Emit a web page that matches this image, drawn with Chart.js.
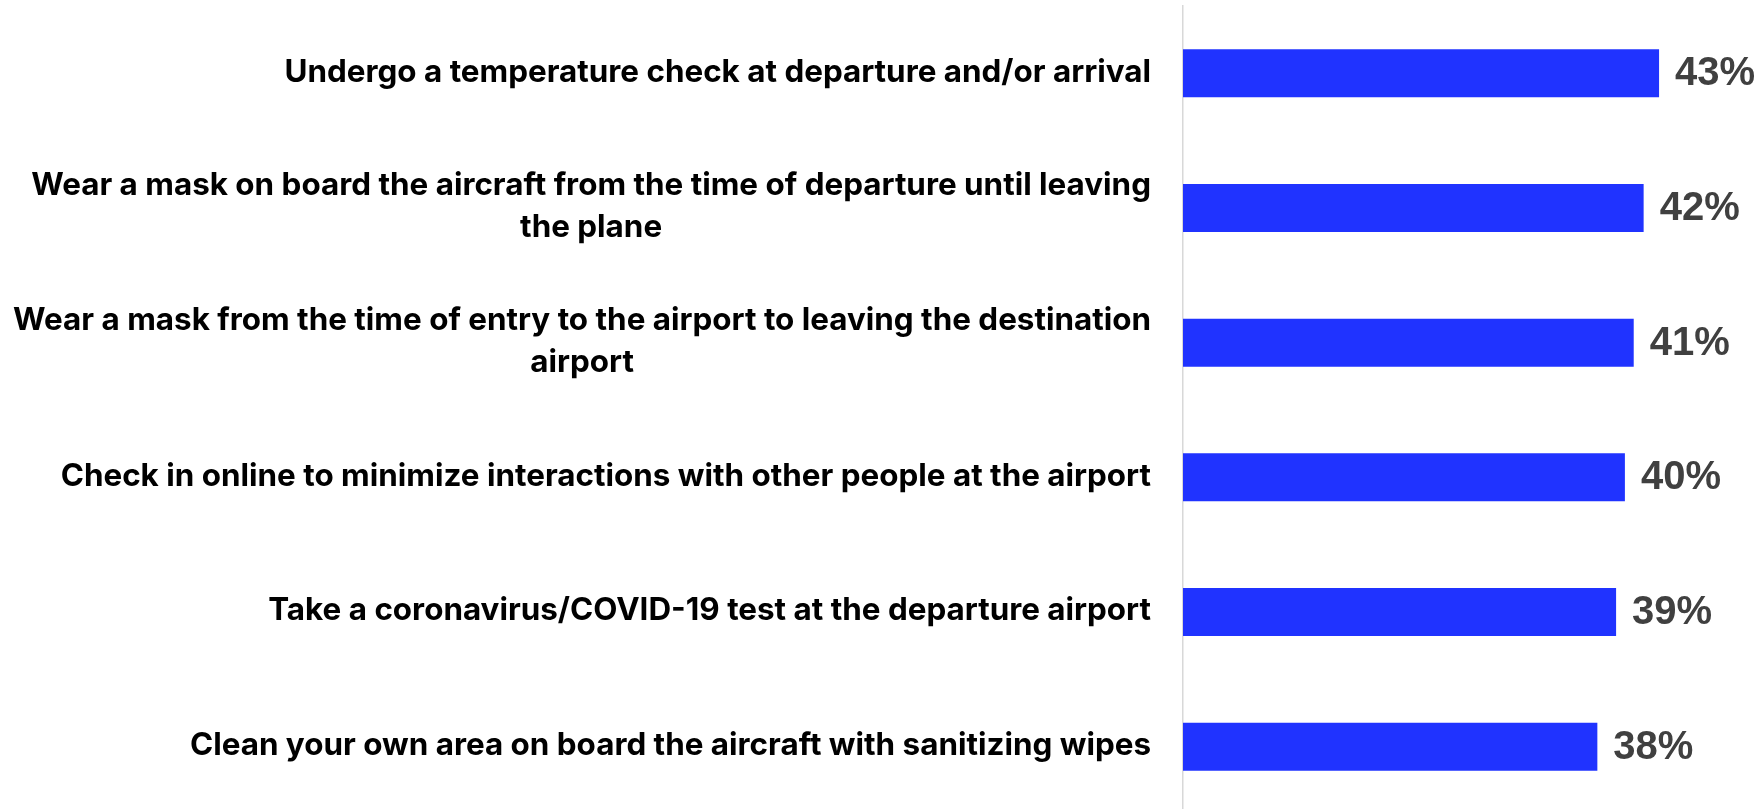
<!DOCTYPE html>
<html lang="en">
<head>
<meta charset="UTF-8">
<title>Airport health measures</title>
<script src="https://cdn.jsdelivr.net/npm/chart.js"></script>
<style>
  html, body { margin: 0; padding: 0; background: #fff; overflow: hidden; }
  .wrap { position: relative; width: 1760px; height: 814px; }
</style>
</head>
<body>
<div class="wrap"><canvas id="barChart"></canvas></div>
<script>
const categories = [
  ["Undergo a temperature check at departure and/or arrival"],
  ["Wear a mask on board the aircraft from the time of departure until leaving", "the plane"],
  ["Wear a mask from the time of entry to the airport to leaving the destination", "airport"],
  ["Check in online to minimize interactions with other people at the airport"],
  ["Take a coronavirus/COVID-19 test at the departure airport"],
  ["Clean your own area on board the aircraft with sanitizing wipes"]
];
const shares = [43.2, 41.8, 40.9, 40.1, 39.3, 37.6];

const labelFont = "bold 31.4px Inter, 'Liberation Sans', Arial, sans-serif";
const valueFont = "bold 40px 'Liberation Sans', Arial, sans-serif";

// category labels (right-aligned block, lines centred) + value labels
const sideLabels = {
  id: "sideLabels",
  afterDraw(chart) {
    const ctx = chart.ctx;
    const yScale = chart.scales.y;
    ctx.save();
    ctx.font = labelFont;
    ctx.fillStyle = "#000";
    ctx.textBaseline = "middle";
    ctx.textAlign = "center";
    const right = chart.chartArea.left - 32;
    categories.forEach((lines, i) => {
      const y = yScale.getPixelForValue(i);
      const blockW = Math.max(...lines.map(l => ctx.measureText(l).width));
      const cx = right - blockW / 2;
      lines.forEach((line, j) => {
        ctx.fillText(line, cx, y - 1 + (j - (lines.length - 1) / 2) * 42);
      });
    });

    ctx.font = valueFont;
    ctx.fillStyle = "#404040";
    ctx.textAlign = "left";
    chart.getDatasetMeta(0).data.forEach((bar, i) => {
      ctx.fillText(Math.round(shares[i]) + "%", bar.x + 16, bar.y + 1);
    });
    ctx.restore();
  }
};

const ctx = document.getElementById("barChart").getContext("2d");
new Chart(ctx, {
  type: "bar",
  data: {
    labels: categories,
    datasets: [{
      data: shares,
      backgroundColor: "#2033ff",
      borderWidth: 0,
      barPercentage: 0.357,
      categoryPercentage: 1
    }]
  },
  options: {
    indexAxis: "y",
    responsive: true,
    maintainAspectRatio: false,
    animation: false,
    layout: { padding: { top: 6, right: 26, bottom: 0, left: 0 } },
    plugins: { legend: { display: false }, tooltip: { enabled: false } },
    scales: {
      x: { min: 0, max: 50, display: false },
      y: {
        grid: { display: false },
        border: { display: true, color: "#d8d8d8", width: 1.5 },
        ticks: { display: false },
        afterFit(scale) { scale.width = 1183; }
      }
    }
  },
  plugins: [sideLabels]
});
</script>
</body>
</html>
